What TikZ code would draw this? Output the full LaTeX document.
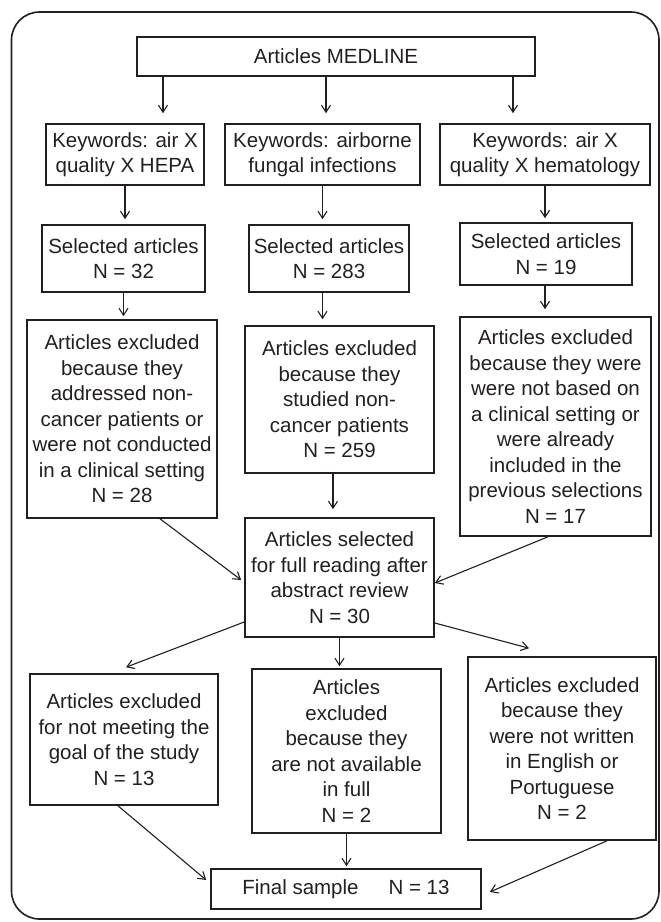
\documentclass[tikz,border=0pt]{standalone}
\usepackage{fontspec}
\setmainfont{Liberation Sans}
\usetikzlibrary{arrows.meta}
\definecolor{ink}{RGB}{35,31,32}
\begin{document}
\begin{tikzpicture}[x=1pt,y=-1pt,
  box/.style={draw=ink, line width=1.6pt, inner sep=0pt, align=center,
    text=ink, font=\fontsize{20.5}{25.5}\selectfont},
  arr/.style={draw=ink, line width=1.1pt, -{Straight Barb[length=7pt,width=9pt]}}]
\useasboundingbox (0,0) rectangle (661,922);
\draw[ink, line width=1.6pt, rounded corners=28pt] (11.5,12) rectangle (659,919);

\node[box, minimum width=398, minimum height=39] (med) at (336,56.5) {Articles MEDLINE};
\node[box, minimum width=158, minimum height=61] (kw1) at (125,154.5) {Keywords: air X\\quality X HEPA};
\node[box, minimum width=195, minimum height=61] (kw2) at (322.5,154.5) {Keywords: airborne\\fungal infections};
\node[box, minimum width=210, minimum height=61] (kw3) at (545,154.5) {Keywords: air X\\quality X hematology};
\node[box, minimum width=163, minimum height=67] (sel1) at (123.5,258.5) {Selected articles\\N = 32};
\node[box, minimum width=160, minimum height=67] (sel2) at (329,258.5) {Selected articles\\N = 283};
\node[box, minimum width=172, minimum height=62] (sel3) at (546,254) {Selected articles\\N = 19};
\node[box, minimum width=190, minimum height=198] (ex1) at (122,419) {Articles excluded\\because they\\addressed non-\\cancer patients or\\were not conducted\\in a clinical setting\\N = 28};
\node[box, minimum width=189, minimum height=147] (ex2) at (339.5,399.5) {Articles excluded\\because they\\studied non-\\cancer patients\\N = 259};
\node[box, minimum width=191, minimum height=219] (ex3) at (555.5,426.5) {Articles excluded\\because they were\\were not based on\\a clinical setting or\\were already\\included in the\\previous selections\\N = 17};
\node[box, minimum width=189, minimum height=119] (ctr) at (339.5,577.5) {Articles selected\\for full reading after\\abstract review\\N = 30};
\node[box, minimum width=188, minimum height=131] (b1) at (124,739.5) {Articles excluded\\for not meeting the\\goal of the study\\N = 13};
\node[box, minimum width=189, minimum height=164] (b2) at (346.5,751) {Articles\\excluded\\because they\\are not available\\in full\\N = 2};
\node[box, minimum width=188, minimum height=183] (b3) at (562,748.5) {Articles excluded\\because they\\were not written\\in English or\\Portuguese\\N = 2};
\node[box, minimum width=270, minimum height=40] (fin) at (346,889) {Final sample\hspace{30pt}N = 13};

% vertical arrows
\coordinate (xa) at (163,0);
\coordinate (xb) at (326,0);
\coordinate (xc) at (513,0);
\draw[arr, shorten >=10pt] (med.south -| xa) -- (kw1.north -| xa);
\draw[arr, shorten >=10pt] (med.south -| xb) -- (kw2.north -| xb);
\draw[arr, shorten >=10pt] (med.south -| xc) -- (kw3.north -| xc);
\draw[arr, shorten >=5pt] (kw1.south) -- (kw1.south |- sel1.north);
\draw[arr, shorten >=5pt] (kw2.south) -- (kw2.south |- sel2.north);
\draw[arr, shorten >=4pt] (kw3.south) -- (kw3.south |- sel3.north);
\draw[arr, shorten >=3pt] (sel1.south) -- (sel1.south |- ex1.north);
\draw[arr, shorten >=6pt] (sel2.south -| kw2.south) -- (kw2.south |- ex2.north);
\draw[arr, shorten >=7pt] (sel3.south -| kw3.south) -- (kw3.south |- ex3.north);
\coordinate (xd) at (333,0);
\draw[arr, shorten >=8pt] (ex2.south -| xd) -- (ctr.north -| xd);
\draw[arr, shorten >=2pt] (ctr.south) -- (ctr.south |- b2.north);
\draw[arr, shorten >=2pt] (b2.south) -- (b2.south |- fin.north);

% diagonal arrows
\draw[arr] ([xshift=38pt]ex1.south) -- ([xshift=-3pt,yshift=-2.5pt]ctr.west);
\draw[arr] ([xshift=-7.5pt]ex3.south) -- ([yshift=-5.5pt]ctr.east);
\draw[arr] ([yshift=-44.5pt]ctr.west) -- ([xshift=2pt,yshift=6pt]b1.north);
\draw[arr] ([yshift=-45.5pt]ctr.east) -- ([xshift=-33pt,yshift=8pt]b3.north);
\draw[arr] ([xshift=-6pt]b1.south) -- ([xshift=-4pt,yshift=9pt]fin.west);
\draw[arr] ([xshift=45pt]b3.south) -- ([xshift=8pt,yshift=-3pt]fin.east);
\end{tikzpicture}
\end{document}
